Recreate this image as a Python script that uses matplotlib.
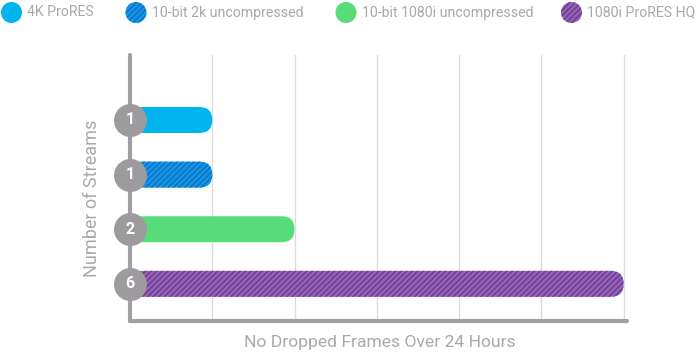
import numpy as np
import matplotlib
matplotlib.use('Agg')
import matplotlib.pyplot as plt
from matplotlib.patches import FancyBboxPatch, Ellipse

# data
labels = ['4K ProRES', '10-bit 2k uncompressed', '10-bit 1080i uncompressed', '1080i ProRES HQ']
streams = [1, 1, 2, 6]
colors = ['#00b4ee', '#1695e6', '#58dc7a', '#9463b8']
hatch_colors = ['#00b4ee', '#0a72c2', '#58dc7a', '#6c3d93']
hatches = [None, '//////', None, '//////']

plt.rcParams['font.family'] = ['Roboto', 'DejaVu Sans']
plt.rcParams['hatch.linewidth'] = 1.1

text_grey = '#a9a9a9'
axis_grey = '#a2a0a4'

fig = plt.figure(figsize=(7, 3.53), dpi=100)
ax = fig.add_axes([0.1857, 0.0907, 0.71, 0.7535])
xmax = 6.04
ymin, ymax = -0.68, 4.19
ax.set_xlim(0, xmax)
ax.set_ylim(ymin, ymax)

ypos = np.arange(len(streams))[::-1]

# pixel size of one data unit, for round bar ends
bb = ax.get_window_extent()
px_x = bb.width / xmax
px_y = bb.height / (ymax - ymin)
bar_h = 26 / px_y
r = 13 / px_x
aspect = (13 / px_y) / r

for y, v, c, h, hc in zip(ypos, streams, colors, hatches, hatch_colors):
    p = FancyBboxPatch((0, y - bar_h / 2), v, bar_h,
                       boxstyle=f'round,pad=0,rounding_size={r}',
                       mutation_aspect=aspect, facecolor=c, edgecolor=hc,
                       hatch=h, linewidth=0, zorder=2)
    ax.add_patch(p)

# number badges
ax.scatter(np.zeros(len(streams)), ypos, s=565, color='#9d9b9e', zorder=5,
           clip_on=False, linewidths=0)
for y, v in zip(ypos, streams):
    ax.text(0, y, str(v), ha='center', va='center', color='white',
            fontsize=11.5, fontweight='bold', zorder=6)

# grid
ax.set_xticks(range(1, 7))
ax.set_yticks([])
ax.tick_params(length=0, labelbottom=False)
ax.grid(axis='x', color='#dcdcdc', linewidth=1)
ax.set_axisbelow(True)
ax.set_xlim(0, xmax)

for s in ['top', 'right']:
    ax.spines[s].set_visible(False)
for s in ['left', 'bottom']:
    ax.spines[s].set_color(axis_grey)
    ax.spines[s].set_linewidth(3)
    ax.spines[s].set_capstyle('round')
    ax.spines[s].set_zorder(3)

fig.text(92 / 700, 1 - 198 / 353, 'Number of Streams', rotation=90,
         ha='center', va='center', color=text_grey, fontsize=13)
fig.text(380 / 700, 1 - 343 / 353, 'No Dropped Frames Over 24 Hours',
         ha='center', va='center', color=text_grey, fontsize=12.6)

# legend
leg_x = [11.5, 136, 346, 571.5]
for x, lab, c, h, hc in zip(leg_x, labels, colors, hatches, hatch_colors):
    e = Ellipse((x / 700, 1 - 12.5 / 353), 21 / 700, 21 / 353,
                transform=fig.transFigure, facecolor=c, edgecolor=hc,
                hatch=h, linewidth=0)
    fig.add_artist(e)
    fig.text((x + 15.5) / 700, 1 - 12.5 / 353, lab, ha='left', va='center',
             color=text_grey, fontsize=10.2)

fig.savefig('out.png', dpi=100)
